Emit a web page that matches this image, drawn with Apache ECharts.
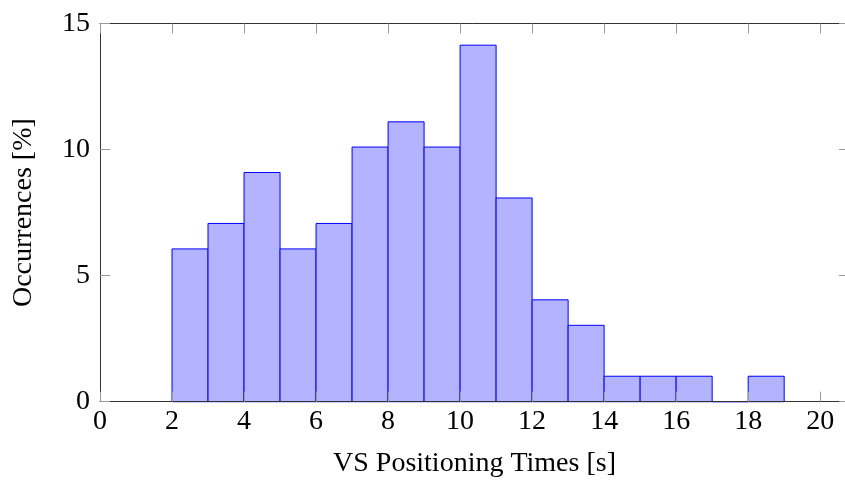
<!DOCTYPE html>
<html>
<head>
<meta charset="utf-8">
<script src="https://cdn.jsdelivr.net/npm/echarts@6/dist/echarts.min.js"></script>
<style>
  html, body { margin: 0; padding: 0; background: #fff; }
  #chart { width: 845px; height: 480px; }
</style>
</head>
<body>
<div id="chart"></div>
<script>
// histogram bins (1 s wide) and share of occurrences in %
const binStarts = [2, 3, 4, 5, 6, 7, 8, 9, 10, 11, 12, 13, 14, 15, 16, 17, 18]
const binEnds = [3, 4, 5, 6, 7, 8, 9, 10, 11, 12, 13, 14, 15, 16, 17, 18, 19]
const occurrences = [6.06, 7.07, 9.09, 6.06, 7.07, 10.1, 11.1, 10.1, 14.14, 8.08, 4.04, 3.03, 1.01, 1.01, 1.01, 0, 1.01]
const xTicks = [0, 2, 4, 6, 8, 10, 12, 14, 16, 18, 20]

const font = 'Liberation Serif'
const chart = echarts.init(document.getElementById('chart'))

const data = binStarts.map((s, i) => [s, binEnds[i], occurrences[i]])

const tickStyle = { inside: true, length: 10, lineStyle: { color: '#999', width: 1 } }
const lineStyle = { show: true, onZero: false, lineStyle: { color: '#333', width: 1 } }
const textStyle = { fontFamily: font, fontSize: 28, color: '#000' }

const option = {
  animation: false,
  grid: { left: 100, top: 23.5, width: 749, height: 378.2, outerBoundsMode: 'none', containLabel: false },
  xAxis: [
    {
      type: 'value', min: 0, max: 20.8, position: 'bottom', z: 3,
      axisLine: lineStyle,
      axisTick: Object.assign({ customValues: xTicks }, tickStyle),
      axisLabel: Object.assign({ customValues: xTicks, margin: 6 }, textStyle),
      splitLine: { show: false },
      name: 'VS Positioning Times [s]', nameLocation: 'middle', nameGap: 48,
      nameTextStyle: textStyle
    },
    {
      type: 'value', min: 0, max: 20.8, position: 'top', z: 3,
      axisLine: lineStyle,
      axisTick: Object.assign({ customValues: xTicks }, tickStyle),
      axisLabel: { show: false },
      splitLine: { show: false }
    }
  ],
  yAxis: [
    {
      type: 'value', min: 0, max: 15, interval: 5, position: 'left', z: 3,
      axisLine: lineStyle,
      axisTick: tickStyle,
      axisLabel: Object.assign({ margin: 10 }, textStyle),
      splitLine: { show: false },
      name: 'Occurrences [%]', nameLocation: 'middle', nameGap: 62,
      nameTextStyle: textStyle
    },
    {
      type: 'value', min: 0, max: 15, interval: 5, position: 'right', z: 3,
      axisLine: lineStyle,
      axisTick: tickStyle,
      axisLabel: { show: false },
      splitLine: { show: false }
    }
  ],
  series: [
    {
      type: 'custom',
      xAxisIndex: 0,
      yAxisIndex: 0,
      data: data,
      encode: { x: [0, 1], y: 2 },
      renderItem: function (params, api) {
        const p0 = api.coord([api.value(0), api.value(2)])
        const p1 = api.coord([api.value(1), 0])
        return {
          type: 'rect',
          shape: { x: p0[0], y: p0[1], width: p1[0] - p0[0], height: p1[1] - p0[1] },
          style: { fill: '#b3b3ff', stroke: '#0000ff', lineWidth: 1 }
        }
      }
    }
  ]
}

option && chart.setOption(option)
</script>
</body>
</html>
